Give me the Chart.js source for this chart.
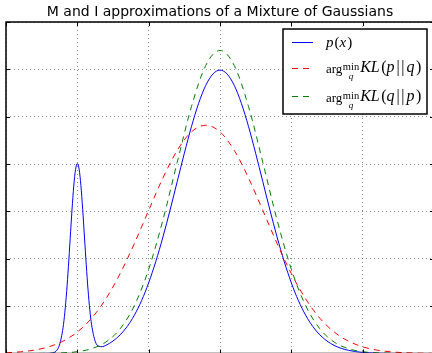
<!DOCTYPE html>
<html>
<head>
<meta charset="utf-8">
<script src="https://cdn.jsdelivr.net/npm/chart.js@4.4.1/dist/chart.umd.min.js"></script>
<style>
  html, body { margin: 0; padding: 0; background: #fff; overflow: hidden; }
  #wrap { position: relative; width: 432px; height: 353px; overflow: hidden; }
  canvas { display: block; }
</style>
</head>
<body>
<div id="wrap"><canvas id="chart" width="436" height="356" style="width:436px;height:356px"></canvas></div>
<script>
// p(x): the mixture
const pX = [-1, -0.8, -0.6, -0.45, -0.4, -0.35, -0.3, -0.25, -0.2, -0.175, -0.15, -0.125, -0.1, -0.075, -0.05, -0.025,
  0, 0.025, 0.05, 0.075, 0.1, 0.125, 0.15, 0.175, 0.2, 0.25, 0.3, 0.35, 0.4, 0.45, 0.5,
  0.6, 0.7, 0.8, 0.9, 1.0, 1.1, 1.2, 1.3, 1.4, 1.5, 1.6, 1.7, 1.8, 1.9, 2.0,
  2.1, 2.2, 2.3, 2.4, 2.5, 2.6, 2.7, 2.8, 2.9, 3.0, 3.1, 3.2, 3.3, 3.4, 3.5,
  3.6, 3.7, 3.8, 3.9, 4.0, 4.2, 4.4, 4.6, 4.8, 5.0];
const pY = [0, 0.00001, 0.00005, 0.00016, 0.00033, 0.00115, 0.0048, 0.0181, 0.0547, 0.0871, 0.1305, 0.1837, 0.2432, 0.3026, 0.3538, 0.3886,
  0.4012, 0.3893, 0.3550, 0.3046, 0.2459, 0.1871, 0.1347, 0.0922, 0.0607, 0.0260, 0.0152, 0.0145, 0.0172, 0.0213, 0.0263,
  0.0393, 0.0572, 0.0810, 0.1114, 0.1492, 0.1943, 0.2460, 0.3030, 0.3630, 0.4228, 0.4791, 0.5281, 0.5661, 0.5901, 0.5984,
  0.5901, 0.5661, 0.5281, 0.4791, 0.4228, 0.3630, 0.3030, 0.2460, 0.1943, 0.1492, 0.1114, 0.0810, 0.0572, 0.0393, 0.0263,
  0.0171, 0.0108, 0.0067, 0.0040, 0.0023, 0.0007, 0.0002, 0.00005, 0.00001, 0];

// shared x grid for the two approximations
const qX = [-1, -0.8, -0.6, -0.4, -0.2, 0, 0.2, 0.4, 0.6, 0.8, 1.0, 1.2, 1.4, 1.6, 1.8, 2.0,
  2.2, 2.4, 2.6, 2.8, 3.0, 3.2, 3.4, 3.6, 3.8, 4.0, 4.2, 4.4, 4.6, 4.8, 5.0];
// argmin_q KL(p||q)  (red, wide)
const klPQ = [0.0016, 0.0035, 0.0072, 0.0141, 0.0261, 0.0454, 0.0745, 0.1154, 0.1687, 0.2324, 0.3022, 0.3707, 0.4289, 0.4681, 0.4820, 0.4681,
  0.4289, 0.3707, 0.3022, 0.2324, 0.1687, 0.1154, 0.0745, 0.0454, 0.0261, 0.0141, 0.0072, 0.0035, 0.0016, 0.0007, 0.0003];
// argmin_q KL(q||p)  (green, on the big mode)
const klQP = [0, 0.00003, 0.00011, 0.0004, 0.0013, 0.0038, 0.0101, 0.0242, 0.0521, 0.1013, 0.1779, 0.2821, 0.4037, 0.5215, 0.6081, 0.6400,
  0.6081, 0.5215, 0.4037, 0.2821, 0.1779, 0.1013, 0.0521, 0.0242, 0.0101, 0.0038, 0.0013, 0.0004, 0.00011, 0.00003, 0];

const xGrid = [-1, 0, 1, 2, 3, 4, 5];
const yGrid = [0, 0.1, 0.2, 0.3, 0.4, 0.5, 0.6, 0.7];

const titleText = 'M and I approximations of a Mixture of Gaussians';

const pts = (xs, ys) => xs.map((x, i) => ({ x, y: ys[i] }));

// axes frame with inward tick marks, like the original
const framePlugin = {
  id: 'frame',
  afterDatasetsDraw(chart) {
    const { ctx, chartArea: a, scales: { x, y } } = chart;
    ctx.save();
    ctx.strokeStyle = '#000';
    ctx.lineWidth = 1;
    ctx.beginPath();
    xGrid.forEach(v => {
      const px = Math.round(x.getPixelForValue(v)) + 0.5;
      ctx.moveTo(px, a.top);    ctx.lineTo(px, a.top + 4);
      ctx.moveTo(px, a.bottom); ctx.lineTo(px, a.bottom - 4);
    });
    yGrid.forEach(v => {
      const py = Math.round(y.getPixelForValue(v)) + 0.5;
      ctx.moveTo(a.left, py);  ctx.lineTo(a.left + 4, py);
      ctx.moveTo(a.right, py); ctx.lineTo(a.right - 4, py);
    });
    ctx.stroke();
    ctx.lineWidth = 1.5;
    ctx.strokeRect(a.left, a.top, a.right - a.left, a.bottom - a.top);
    ctx.restore();
  }
};

// legend with the math labels (arg min with a subscript)
const SERIF = '"Liberation Serif", "DejaVu Serif", serif';
const klPieces = (a, b) => [
  { t: 'K', f: 'italic 16px', dx: 1, dy: -1 }, { t: 'L', f: 'italic 16px', dy: -1 }, { t: '(', f: '16px', dx: 1.5, dy: -1 },
  { t: a, f: 'italic 16px', dy: -1 }, { t: '|', f: '16px', dx: 2, dy: -1 }, { t: '|', f: '16px', dx: 1.5, dy: -1 },
  { t: b, f: 'italic 16px', dx: 2, dy: -1 }, { t: ')', f: '16px', dx: 1.5, dy: -1 }
];
const legendRows = [
  { color: '#0000ff', dash: [], ly: 42, base: 47, pieces: [
    { t: 'p', f: 'italic 15px' }, { t: '(', f: '15px', dx: 1 }, { t: 'x', f: 'italic 15px' }, { t: ')', f: '15px', dx: 1 }
  ] },
  { color: '#ff0000', dash: [6, 5], ly: 68, base: 73, pieces: [
    { t: 'arg', f: '13px' }, { t: 'min', f: '10.5px', dx: 0.5, dy: -3, sub: 'q' }, ...klPieces('p', 'q')
  ] },
  { color: '#008000', dash: [6, 5], ly: 96, base: 102, pieces: [
    { t: 'arg', f: '13px' }, { t: 'min', f: '10.5px', dx: 0.5, dy: -3, sub: 'q' }, ...klPieces('q', 'p')
  ] }
];

const legendPlugin = {
  id: 'mathLegend',
  afterDraw(chart) {
    const ctx = chart.ctx;
    ctx.save();
    ctx.fillStyle = '#fff';
    ctx.fillRect(283, 29, 144, 85);
    ctx.strokeStyle = '#000';
    ctx.lineWidth = 1.5;
    ctx.strokeRect(283, 29, 144, 85);
    legendRows.forEach(r => {
      ctx.strokeStyle = r.color;
      ctx.lineWidth = 1;
      ctx.setLineDash(r.dash);
      ctx.beginPath();
      ctx.moveTo(292, r.ly + 0.5);
      ctx.lineTo(313, r.ly + 0.5);
      ctx.stroke();
      ctx.setLineDash([]);
      ctx.fillStyle = '#000';
      ctx.textBaseline = 'alphabetic';
      let x = 326;
      r.pieces.forEach(p => {
        x += p.dx || 0;
        ctx.font = p.f + ' ' + SERIF;
        const w = ctx.measureText(p.t).width;
        ctx.textAlign = 'left';
        ctx.fillText(p.t, x, r.base + (p.dy || 0));
        if (p.sub) {
          ctx.font = 'italic 9px ' + SERIF;
          ctx.textAlign = 'center';
          ctx.fillText(p.sub, x + w / 2, r.base + 6);
        }
        x += w;
      });
    });
    ctx.restore();
  }
};

new Chart(document.getElementById('chart'), {
  type: 'line',
  data: {
    datasets: [
      { label: 'p(x)', data: pts(pX, pY), borderColor: '#0000ff', borderWidth: 1, order: 2 },
      { label: 'argmin_q KL(p||q)', data: pts(qX, klPQ), borderColor: '#ff0000', borderWidth: 1, borderDash: [6, 5], order: 1 },
      { label: 'argmin_q KL(q||p)', data: pts(qX, klQP), borderColor: '#008000', borderWidth: 1, borderDash: [6, 5], order: 0 }
    ]
  },
  options: {
    responsive: false,
    devicePixelRatio: 1,
    animation: false,
    events: [],
    layout: { padding: { left: 6, right: 2, top: 0, bottom: 2.5 } },
    elements: {
      point: { radius: 0 },
      line: { fill: false, cubicInterpolationMode: 'monotone' }
    },
    plugins: {
      legend: { display: false },
      tooltip: { enabled: false },
      title: {
        display: true,
        text: titleText,
        color: '#000',
        font: { family: '"DejaVu Sans", sans-serif', size: 14, weight: 'normal' },
        padding: { top: 4, bottom: 1.2 }
      }
    },
    scales: {
      x: {
        type: 'linear', min: -1, max: 5,
        ticks: { display: false, stepSize: 1 },
        grid: { color: 'rgba(0,0,0,0.45)', lineWidth: 1, drawTicks: false },
        border: { display: false, dash: [1, 3] }
      },
      y: {
        min: 0, max: 0.7,
        ticks: { display: false, stepSize: 0.1 },
        grid: { color: 'rgba(0,0,0,0.45)', lineWidth: 1, drawTicks: false },
        border: { display: false, dash: [1, 3] }
      }
    }
  },
  plugins: [framePlugin, legendPlugin]
});
</script>
</body>
</html>
